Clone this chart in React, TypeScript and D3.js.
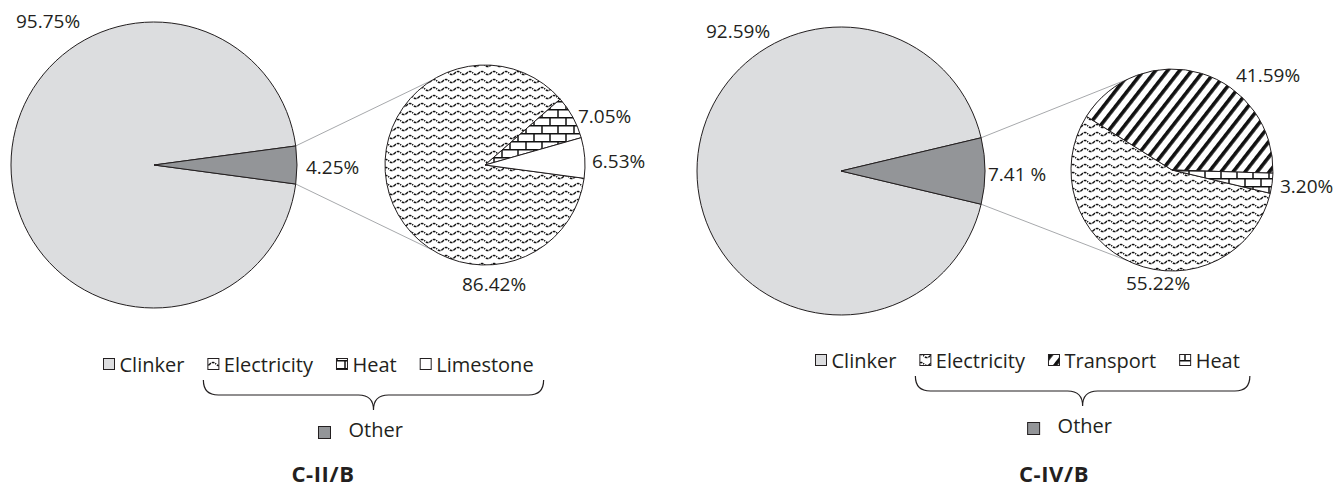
import React from "react";
import * as d3 from "d3";

// Cement footprint split: clinker vs. "other", with "other" broken down in a secondary pie.
const mainCategories = ["Clinker", "Other"];

const mainValuesII = [95.75, 4.25];
const subCategoriesII = ["Electricity", "Heat", "Limestone"];
const subValuesII = [86.42, 7.05, 6.53];

const mainValuesIV = [92.59, 7.41];
const subCategoriesIV = ["Electricity", "Transport", "Heat"];
const subValuesIV = [55.22, 41.59, 3.2];

const chartTitles = ["C-II/B", "C-IV/B"];
const otherLabelSeparators = ["", " "];

const FONT = "'Open Sans', 'Noto Sans', sans-serif";
const INK = "#231f20";

const fills: Record<string, string> = {
  Clinker: "#dcdddf",
  Other: "#939598",
  Electricity: "url(#wave)",
  Heat: "url(#brick)",
  Limestone: "#ffffff",
  Transport: "url(#stripes)",
};

type Pt = { dx: number; dy: number };
type Layout = {
  main: { cx: number; cy: number; r: number };
  sub: { cx: number; cy: number; r: number };
  connectorDeg: number;
  mainLabels: Pt[];
  subLabels: Pt[];
  legendX: number;
  legendBaseline: number;
  titleX: number;
  titleY: number;
};

const layouts: Layout[] = [
  {
    main: { cx: 154, cy: 165, r: 143 },
    sub: { cx: 485, cy: 165, r: 100 },
    connectorDeg: 122,
    mainLabels: [
      { dx: -138, dy: -137 },
      { dx: 152, dy: 9 },
    ],
    subLabels: [
      { dx: -23, dy: 126 },
      { dx: 93, dy: -42 },
      { dx: 107, dy: 3 },
    ],
    legendX: 103,
    legendBaseline: 372,
    titleX: 323,
    titleY: 482,
  },
  {
    main: { cx: 841, cy: 171, r: 144 },
    sub: { cx: 1172, cy: 170, r: 101 },
    connectorDeg: 116,
    mainLabels: [
      { dx: -135, dy: -133 },
      { dx: 147, dy: 10 },
    ],
    subLabels: [
      { dx: -46, dy: 120 },
      { dx: 64, dy: -88 },
      { dx: 108, dy: 23 },
    ],
    legendX: 815,
    legendBaseline: 368,
    titleX: 1054,
    titleY: 482,
  },
];

const charts = [
  { mainValues: mainValuesII, subCats: subCategoriesII, subValues: subValuesII },
  { mainValues: mainValuesIV, subCats: subCategoriesIV, subValues: subValuesIV },
];

let measureCtx: CanvasRenderingContext2D | null = null;
function textWidth(s: string, font: string) {
  if (!measureCtx) measureCtx = document.createElement("canvas").getContext("2d");
  if (!measureCtx) return s.length * 10;
  measureCtx.font = font;
  return measureCtx.measureText(s).width;
}

const fmt = (v: number, sep = "") => `${v.toFixed(2)}${sep}%`;

function PieOfPie({ idx }: { idx: number }) {
  const L = layouts[idx];
  const { mainValues, subCats, subValues } = charts[idx];
  const total = d3.sum(mainValues);
  const otherFrac = mainValues[1] / total;
  const start = Math.PI / 2 + otherFrac * Math.PI;

  const pie = d3
    .pie<number>()
    .sort(null)
    .value((d) => d)
    .startAngle(start)
    .endAngle(start + 2 * Math.PI);

  const mainArcs = pie(mainValues);
  const subArcs = pie(subValues);
  const arcMain = d3.arc<d3.PieArcDatum<number>>().innerRadius(0).outerRadius(L.main.r);
  const arcSub = d3.arc<d3.PieArcDatum<number>>().innerRadius(0).outerRadius(L.sub.r);

  // connector lines from the edges of the "Other" slice to the secondary pie
  const otherArc = mainArcs[1];
  const polar = (cx: number, cy: number, r: number, a: number) => [
    cx + r * Math.sin(a),
    cy - r * Math.cos(a),
  ];
  const [ux, uy] = polar(L.main.cx, L.main.cy, L.main.r, otherArc.startAngle);
  const [lx, ly] = polar(L.main.cx, L.main.cy, L.main.r, otherArc.endAngle);
  const th = (L.connectorDeg * Math.PI) / 180;
  const subUp = [L.sub.cx + L.sub.r * Math.cos(-th), L.sub.cy + L.sub.r * Math.sin(-th)];
  const subDn = [L.sub.cx + L.sub.r * Math.cos(th), L.sub.cy + L.sub.r * Math.sin(th)];
  const firstIsUpper = uy < ly;

  // legend
  const legendFont = `20px ${FONT}`;
  const legendCats = [mainCategories[0], ...subCats];
  const iconSize = 12;
  const items: { cat: string; ix: number; tx: number; end: number }[] = [];
  let x = L.legendX;
  legendCats.forEach((cat) => {
    const tx = x + iconSize + 4.5;
    const w = textWidth(cat, legendFont);
    items.push({ cat, ix: x, tx, end: tx + w });
    x = tx + w + 23;
  });
  const b = L.legendBaseline;
  const bx0 = items[1].ix - 4;
  const bx1 = items[items.length - 1].end + 10;
  const tipX = (bx0 + bx1) / 2;
  const bTop = b + 8;
  const bMid = bTop + 15;
  const bTip = bTop + 30;
  const br = 15;
  const brace = `M${bx0},${bTop} Q${bx0},${bMid} ${bx0 + br},${bMid} L${tipX - br},${bMid} Q${tipX},${bMid} ${tipX},${bTip} Q${tipX},${bMid} ${tipX + br},${bMid} L${bx1 - br},${bMid} Q${bx1},${bMid} ${bx1},${bTop}`;
  const otherIconX = tipX - 55;
  const otherBaseline = b + 64.5;

  return (
    <g>
      <line
        x1={ux}
        y1={uy}
        x2={firstIsUpper ? subUp[0] : subDn[0]}
        y2={firstIsUpper ? subUp[1] : subDn[1]}
        stroke="#a7a9ac"
        strokeWidth={1}
      />
      <line
        x1={lx}
        y1={ly}
        x2={firstIsUpper ? subDn[0] : subUp[0]}
        y2={firstIsUpper ? subDn[1] : subUp[1]}
        stroke="#a7a9ac"
        strokeWidth={1}
      />

      <g transform={`translate(${L.main.cx},${L.main.cy})`}>
        {mainArcs.map((a, i) => (
          <path
            key={i}
            d={arcMain(a) || ""}
            fill={fills[mainCategories[i]]}
            stroke={INK}
            strokeWidth={1}
            strokeLinejoin="round"
          />
        ))}
      </g>
      <g transform={`translate(${L.sub.cx},${L.sub.cy})`}>
        {subArcs.map((a, i) => (
          <path
            key={i}
            d={arcSub(a) || ""}
            fill={fills[subCats[i]]}
            stroke={INK}
            strokeWidth={1}
            strokeLinejoin="round"
          />
        ))}
      </g>

      <g fontFamily={FONT} fontSize={19} fill={INK}>
        {mainValues.map((v, i) => (
          <text key={`m${i}`} x={L.main.cx + L.mainLabels[i].dx} y={L.main.cy + L.mainLabels[i].dy}>
            {fmt(v, i === 1 ? otherLabelSeparators[idx] : "")}
          </text>
        ))}
        {subValues.map((v, i) => (
          <text key={`s${i}`} x={L.sub.cx + L.subLabels[i].dx} y={L.sub.cy + L.subLabels[i].dy}>
            {fmt(v)}
          </text>
        ))}
      </g>

      <g fontFamily={FONT} fontSize={20} fill={INK}>
        {items.map((it) => (
          <g key={it.cat}>
            <rect
              x={it.ix + 0.5}
              y={b - 13.5}
              width={iconSize - 1}
              height={iconSize - 1}
              fill={fills[it.cat]}
              stroke={INK}
              strokeWidth={1}
            />
            <text x={it.tx} y={b}>
              {it.cat}
            </text>
          </g>
        ))}
        <path d={brace} fill="none" stroke={INK} strokeWidth={1.2} />
        <rect
          x={otherIconX}
          y={otherBaseline - 10}
          width={12}
          height={12}
          fill={fills.Other}
          stroke={INK}
          strokeWidth={1}
        />
        <text x={otherIconX + 30} y={otherBaseline}>
          {mainCategories[1]}
        </text>
      </g>

      <text
        x={L.titleX}
        y={L.titleY}
        textAnchor="middle"
        fontFamily={FONT}
        fontWeight="bold"
        fontSize={22}
        letterSpacing={0.6}
        fill={INK}
      >
        {chartTitles[idx]}
      </text>
    </g>
  );
}

export default function App() {
  return (
    <svg
      width={1343}
      height={489}
      viewBox="0 0 1343 489"
      style={{ position: "absolute", left: 0, top: 0, background: "#fff" }}
    >
      <defs>
        <pattern id="wave" width={12} height={8} patternUnits="userSpaceOnUse">
          <rect width={12} height={8} fill="#fff" />
          <path
            d="M-6,4 Q-3,0.8 0,4 T6,4 T12,4 T18,4"
            fill="none"
            stroke="#111"
            strokeWidth={1.5}
            strokeDasharray="3 0.9"
          />
        </pattern>
        <pattern id="brick" width={16} height={16} patternUnits="userSpaceOnUse">
          <rect width={16} height={16} fill="#fff" />
          <path
            d="M0,0.75 H16 M0,8.75 H16 M1,0 V8 M9,8 V16"
            fill="none"
            stroke="#111"
            strokeWidth={1.5}
          />
        </pattern>
        <pattern
          id="stripes"
          width={9.5}
          height={10}
          patternUnits="userSpaceOnUse"
          patternTransform="rotate(38)"
        >
          <rect width={9.5} height={10} fill="#fff" />
          <rect width={3.6} height={10} fill="#111" />
        </pattern>
      </defs>
      <rect width={1343} height={489} fill="#fff" />
      {charts.map((_, i) => (
        <PieOfPie key={i} idx={i} />
      ))}
    </svg>
  );
}
